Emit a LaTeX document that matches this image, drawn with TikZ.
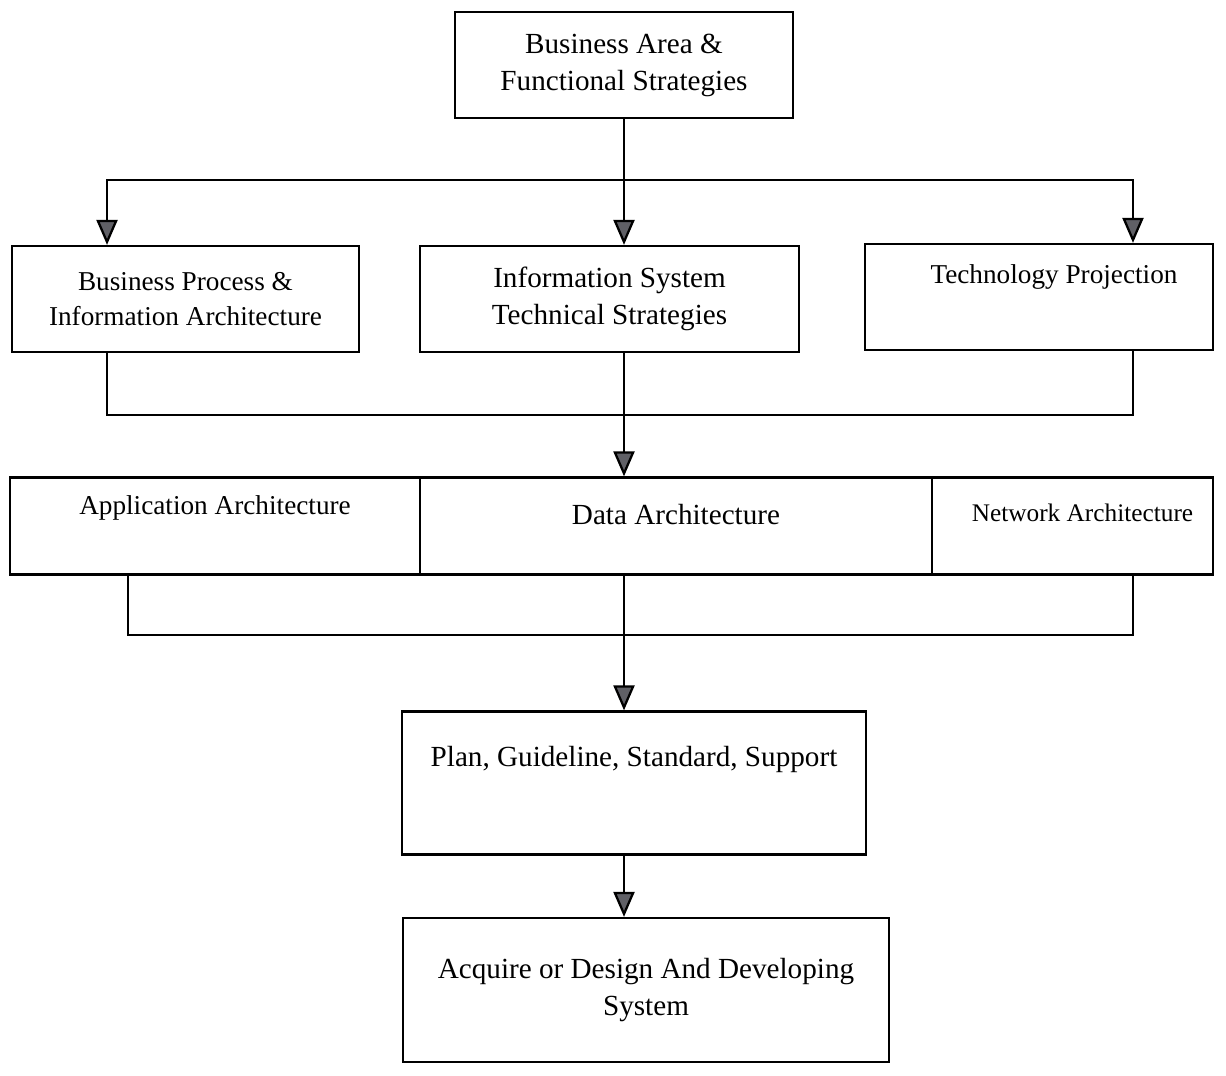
\documentclass[tikz,border=0pt]{standalone}
\usepackage{fontspec}
\setmainfont{Liberation Serif}
\usepackage{tikz}
\usetikzlibrary{positioning,calc,arrows.meta}
\definecolor{tipgray}{RGB}{96,96,102}

\begin{document}
\begin{tikzpicture}[
    x=0.02cm, y=-0.02cm,
    box/.style={draw, line width=1.3pt, align=center, inner sep=0pt, font=\fontsize{15.5}{20}\selectfont},
    bigtext/.style={font=\fontsize{16.6}{21}\selectfont},
    raised/.style={text height=0.45cm, text depth=#1},
    arrow/.style={-{Triangle[width=0.42cm, length=0.5cm, fill=tipgray]}, line width=1.3pt},
    link/.style={line width=1.3pt}
]
\path[fill=white, use as bounding box] (0,0) rectangle (1226,1075);

\node[box, bigtext, minimum width=6.76cm, minimum height=2.12cm] (top) at (624,65) {Business Area \&\\Functional Strategies};

% strategy row
\node[box, minimum width=6.94cm, minimum height=2.12cm] (bp) at (185.5,299) {Business Process \&\\Information Architecture};
\node[box, bigtext, minimum width=7.58cm, minimum height=2.12cm] (is) at (609.5,299) {Information System\\Technical Strategies};
\node[box, minimum width=6.96cm, minimum height=2.12cm] (tp) at (1039,297) {\hspace*{0.6cm}Technology Projection\\\strut};

% architecture band
\node[box, raised=0.91cm, minimum width=8.2cm, minimum height=1.94cm] (app) at (215,526) {Application Architecture};
\node[box, bigtext, raised=0.51cm, minimum width=10.24cm, minimum height=1.94cm] (data) at (676,526) {Data Architecture};
\node[box, raised=0.63cm, minimum width=5.62cm, minimum height=1.94cm, font=\fontsize{14.4}{18}\selectfont] (net) at (1072.5,526) {\hspace*{0.4cm}Network Architecture};

\node[box, bigtext, raised=1.11cm, minimum width=9.28cm, minimum height=2.86cm] (plan) at (634,783) {Plan, Guideline, Standard, Support};
\node[box, bigtext, minimum width=9.72cm, minimum height=2.88cm] (acq) at (646,990) {Acquire or Design And Developing\\System};

% spine points
\coordinate (fork) at (624,180);
\coordinate (merge1) at (624,415);
\coordinate (merge2) at (624,635);

% fan out
\draw[link] (top.south) -- (fork);
\draw[arrow] (fork) -- (is.north -| fork);
\draw[arrow] (fork) -| ([xshift=-1.57cm]bp.north);
\draw[arrow] (fork) -| ([xshift=1.88cm]tp.north);

% gather into the band
\draw[link] ([xshift=-1.57cm]bp.south) |- (merge1) -| ([xshift=1.88cm]tp.south);
\draw[arrow] (is.south -| fork) -- (data.north -| fork);

% gather into plan
\draw[link] ([xshift=-1.74cm]app.south) |- (merge2) -| ([xshift=1.21cm]net.south);
\draw[arrow] (data.south -| fork) -- (plan.north -| fork);
\draw[arrow] (plan.south -| fork) -- (acq.north -| fork);
\end{tikzpicture}
\end{document}
